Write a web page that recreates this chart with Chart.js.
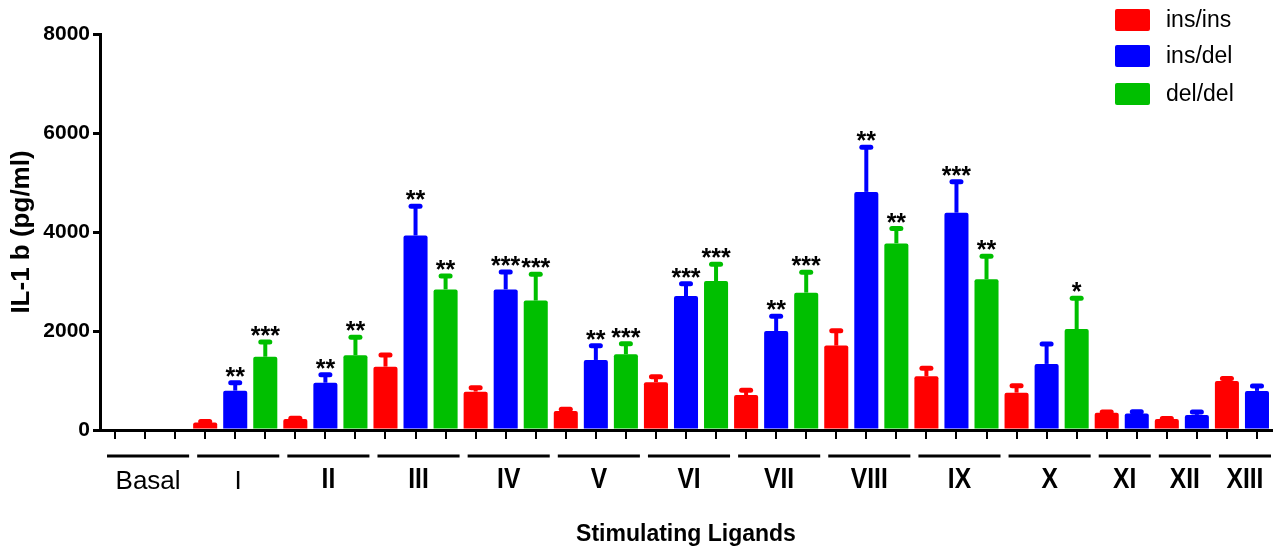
<!DOCTYPE html>
<html>
<head>
<meta charset="utf-8">
<script src="https://cdn.jsdelivr.net/npm/chart.js@4.4.1/dist/chart.umd.min.js"></script>
<style>
  html, body { margin: 0; padding: 0; background: #fff; }
  #wrap { width: 1273px; height: 550px; position: relative; }
</style>
</head>
<body>
<div id="wrap"><canvas id="c"></canvas></div>
<script>
// --- data ---
const groups = ["Basal", "I", "II", "III", "IV", "V", "VI", "VII", "VIII", "IX", "X", "XI", "XII", "XIII"];
const groupSizes = [3, 3, 3, 3, 3, 3, 3, 3, 3, 3, 3, 2, 2, 2];

const insIns    = [0, 150, 220, 1280, 775, 385, 965, 705, 1705, 1085, 755, 350, 222, 990];
const insInsErr = [0, 20, 15, 235, 80, 35, 110, 100, 300, 160, 140, 15, 10, 50];

const insDel    = [0, 795, 955, 3930, 2840, 1415, 2705, 2000, 4810, 4390, 1335, 335, 305, 790];
const insDelErr = [0, 160, 160, 590, 350, 285, 250, 300, 900, 625, 400, 35, 60, 100];
const insDelSig = ["", "**", "**", "**", "***", "**", "***", "**", "**", "***", "", "", "", ""];

const delDel    = [0, 1480, 1510, 2840, 2615, 1530, 3010, 2775, 3770, 3045, 2040, null, null, null];
const delDelErr = [0, 300, 365, 270, 530, 210, 340, 410, 300, 465, 620, null, null, null];
const delDelSig = ["", "***", "**", "**", "***", "***", "***", "***", "**", "**", "*", "", "", ""];

const yTicks = [0, 2000, 4000, 6000, 8000];

const RED = "#ff0000", BLUE = "#0000ff", GREEN = "#00bf00";
const FONT = "Arial, 'Liberation Sans', sans-serif";

// one category slot per bar, bars sit on their own slot
const slots = [];
const groupStart = [];
groups.forEach((g, i) => {
  groupStart.push(slots.length);
  for (let k = 0; k < groupSizes[i]; k++) slots.push(g + "-" + k);
});

function spread(values, errs, sigs, offset) {
  const data = slots.map(() => null);
  const err = slots.map(() => null);
  const sig = slots.map(() => "");
  groups.forEach((g, i) => {
    if (offset >= groupSizes[i] || values[i] == null) return;
    const s = groupStart[i] + offset;
    data[s] = values[i];
    err[s] = errs[i];
    sig[s] = sigs ? sigs[i] : "";
  });
  return { data, err, sig };
}

const sRed = spread(insIns, insInsErr, null, 0);
const sBlue = spread(insDel, insDelErr, insDelSig, 1);
const sGreen = spread(delDel, delDelErr, delDelSig, 2);

// error bars + stars
const errorBars = {
  id: "errorBars",
  afterDatasetsDraw(chart) {
    const ctx = chart.ctx;
    const y = chart.scales.y;
    chart.data.datasets.forEach((ds, di) => {
      const meta = chart.getDatasetMeta(di);
      meta.data.forEach((bar, i) => {
        const v = ds.data[i];
        const e = ds.errors[i];
        if (v == null) return;
        const x = bar.x;
        const yTop = y.getPixelForValue(v + (e || 0));
        ctx.save();
        if (e) {
          ctx.strokeStyle = ds.backgroundColor;
          ctx.lineWidth = 4;
          ctx.beginPath();
          ctx.moveTo(x, y.getPixelForValue(v));
          ctx.lineTo(x, yTop);
          ctx.stroke();
          ctx.lineCap = "round";
          ctx.lineWidth = 5;
          ctx.beginPath();
          ctx.moveTo(x - 4.5, yTop);
          ctx.lineTo(x + 4.5, yTop);
          ctx.stroke();
        }
        const s = ds.stars[i];
        if (s) {
          ctx.fillStyle = "#000";
          ctx.font = "bold 25px " + FONT;
          ctx.textAlign = "center";
          ctx.textBaseline = "alphabetic";
          ctx.fillText(s, x, yTop + 2);
        }
        ctx.restore();
      });
    });
  }
};

// group bars under the axis, group names, legend
const decorations = {
  id: "decorations",
  afterDraw(chart) {
    const ctx = chart.ctx;
    const x = chart.scales.x;
    ctx.save();
    ctx.fillStyle = "#000";
    ctx.strokeStyle = "#000";
    groups.forEach((g, i) => {
      const a = x.getPixelForValue(groupStart[i]) - 8;
      const b = x.getPixelForValue(groupStart[i] + groupSizes[i] - 1) + 14;
      ctx.lineWidth = 3;
      ctx.beginPath();
      ctx.moveTo(a, 456);
      ctx.lineTo(b, 456);
      ctx.stroke();
      const cx = (a + b) / 2;
      ctx.textAlign = "center";
      ctx.textBaseline = "alphabetic";
      if (g === "Basal" || g === "I") {
        ctx.font = "26px " + FONT;
        ctx.fillText(g, cx, 489);
      } else {
        ctx.save();
        ctx.translate(cx, 488);
        ctx.scale(0.82, 1);
        ctx.font = "bold 30px " + FONT;
        ctx.fillText(g, 0, 0);
        ctx.restore();
      }
    });

    // legend
    const rows = [20, 56, 94];
    chart.data.datasets.forEach((ds, i) => {
      ctx.fillStyle = ds.backgroundColor;
      ctx.beginPath();
      ctx.roundRect(1115, rows[i] - 11, 35, 22, 2);
      ctx.fill();
      ctx.fillStyle = "#000";
      ctx.font = "23px " + FONT;
      ctx.textAlign = "left";
      ctx.textBaseline = "middle";
      ctx.fillText(ds.label, 1166, rows[i] + 1);
    });
    ctx.restore();
  }
};

new Chart(document.getElementById("c"), {
  type: "bar",
  data: {
    labels: slots,
    datasets: [
      { label: "ins/ins", data: sRed.data, errors: sRed.err, stars: sRed.sig, backgroundColor: RED },
      { label: "ins/del", data: sBlue.data, errors: sBlue.err, stars: sBlue.sig, backgroundColor: BLUE },
      { label: "del/del", data: sGreen.data, errors: sGreen.err, stars: sGreen.sig, backgroundColor: GREEN }
    ]
  },
  options: {
    responsive: true,
    maintainAspectRatio: false,
    animation: false,
    layout: { padding: { top: 34, right: 1, left: 0, bottom: 0 } },
    datasets: {
      bar: { grouped: false, barPercentage: 0.8, categoryPercentage: 1.0, borderRadius: 2 }
    },
    plugins: {
      legend: { display: false },
      tooltip: { enabled: false }
    },
    scales: {
      x: {
        type: "category",
        offset: true,
        grid: { offset: false, drawOnChartArea: false, tickLength: 9, lineWidth: 2, color: "#000" },
        border: { width: 3, color: "#000" },
        ticks: { display: false },
        title: {
          display: true,
          text: "Stimulating Ligands",
          color: "#000",
          font: { family: FONT, size: 23, weight: "bold" },
          padding: { top: 0, bottom: 2 }
        },
        afterFit: s => { s.height = 120; }
      },
      y: {
        min: 0,
        max: 8000,
        afterBuildTicks: s => { s.ticks = yTicks.map(v => ({ value: v })); },
        grid: { drawOnChartArea: false, tickLength: 7, lineWidth: 3, color: "#000" },
        border: { width: 3, color: "#000" },
        ticks: { color: "#000", font: { family: FONT, size: 21, weight: "bold" }, padding: 3, callback: v => String(v) },
        title: {
          display: true,
          text: "IL-1 b (pg/ml)",
          color: "#000",
          font: { family: FONT, size: 26, weight: "bold" },
          padding: { top: 6, bottom: 0 }
        },
        afterFit: s => { s.width = 100; }
      }
    }
  },
  plugins: [errorBars, decorations]
});
</script>
</body>
</html>
